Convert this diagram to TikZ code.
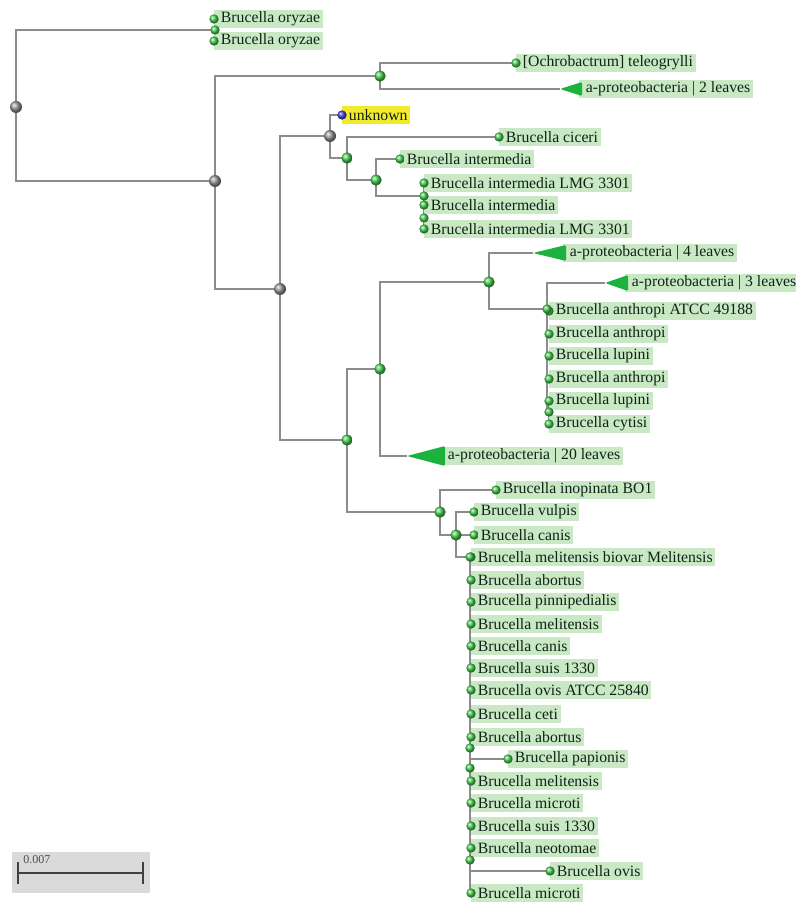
\documentclass[tikz,border=0pt]{standalone}
\usepackage{fontspec}
\setmainfont{Liberation Serif}
\usetikzlibrary{backgrounds}
\definecolor{branchgray}{RGB}{140,140,140}
\definecolor{leafgreen}{RGB}{70,205,80}
\definecolor{labelgreen}{RGB}{200,233,196}
\definecolor{cladegreen}{RGB}{28,178,62}
\definecolor{unknownyellow}{RGB}{242,234,45}
\definecolor{unknownblue}{RGB}{70,60,225}
\definecolor{textdark}{RGB}{18,34,24}
\definecolor{scalegray}{RGB}{218,218,218}

\begin{document}
\begin{tikzpicture}[x=0.75pt, y=-0.75pt,
  branch/.style={draw=branchgray, line width=1.3pt},
  junction/.style={circle, inner sep=0pt, minimum size=8.5pt, ball color=leafgreen},
  grayjunction/.style={circle, inner sep=0pt, minimum size=9pt, ball color=gray!80},
  leafdot/.style={circle, inner sep=0pt, minimum size=7pt, ball color=leafgreen},
  taxon/.style={anchor=west, fill=labelgreen, text=textdark, inner xsep=2pt, inner ysep=0pt,
    minimum height=13pt, font=\fontsize{11.8}{13}\selectfont, execute at begin node=\hspace*{3pt}},
  clade/.style={fill=cladegreen, rounded corners=1pt}
]
\useasboundingbox (0,0) rectangle (795,905);

% Leaf labels
\node[taxon] (lab-oryA) at (214,19) {Brucella oryzae};
\node[taxon] (lab-oryB) at (214,41) {Brucella oryzae};
\node[taxon] (lab-ochro) at (516,63) {[Ochrobactrum] teleogrylli};
\node[taxon, fill=unknownyellow] (lab-unk) at (342,115) {unknown};
\node[taxon] (lab-cic) at (499,137) {Brucella ciceri};
\node[taxon] (lab-intA) at (400,159) {Brucella intermedia};
\node[taxon] (lab-lmgA) at (424,183) {Brucella intermedia LMG 3301};
\node[taxon] (lab-intB) at (424,205) {Brucella intermedia};
\node[taxon] (lab-lmgB) at (424,229) {Brucella intermedia LMG 3301};
\node[taxon] (lab-atcc) at (549,311) {Brucella anthropi ATCC 49188};
\node[taxon] (lab-antA) at (549,334) {Brucella anthropi};
\node[taxon] (lab-lupA) at (549,356) {Brucella lupini};
\node[taxon] (lab-antB) at (549,379) {Brucella anthropi};
\node[taxon] (lab-lupB) at (549,401) {Brucella lupini};
\node[taxon] (lab-cyt) at (549,424) {Brucella cytisi};
\node[taxon] (lab-inop) at (496,490) {Brucella inopinata BO1};
\node[taxon] (lab-vulp) at (474,512) {Brucella vulpis};
\node[taxon] (lab-canA) at (474,535) {Brucella canis};
\node[taxon] (lab-mbm) at (471,557) {Brucella melitensis biovar Melitensis};
\node[taxon] (lab-aboA) at (471,580) {Brucella abortus};
\node[taxon] (lab-pin) at (471,602) {Brucella pinnipedialis};
\node[taxon] (lab-melA) at (471,624) {Brucella melitensis};
\node[taxon] (lab-canB) at (471,646) {Brucella canis};
\node[taxon] (lab-suisA) at (471,668) {Brucella suis 1330};
\node[taxon] (lab-ovisA) at (471,690) {Brucella ovis ATCC 25840};
\node[taxon] (lab-ceti) at (471,714) {Brucella ceti};
\node[taxon] (lab-aboB) at (471,737) {Brucella abortus};
\node[taxon] (lab-pap) at (508,759) {Brucella papionis};
\node[taxon] (lab-melB) at (471,781) {Brucella melitensis};
\node[taxon] (lab-micA) at (471,803) {Brucella microti};
\node[taxon] (lab-suisB) at (471,826) {Brucella suis 1330};
\node[taxon] (lab-neo) at (471,848) {Brucella neotomae};
\node[taxon] (lab-ovisB) at (550,871) {Brucella ovis};
\node[taxon] (lab-micB) at (471,893) {Brucella microti};

% Collapsed clades
\node[taxon] (lab-t2) at (579,89) {a-proteobacteria | 2 leaves};
\node[taxon] (lab-t4) at (563,253) {a-proteobacteria | 4 leaves};
\node[taxon] (lab-t3) at (625,283) {a-proteobacteria | 3 leaves};
\node[taxon] (lab-t20) at (441,456) {a-proteobacteria | 20 leaves};
\coordinate (t2) at (560,89);
\coordinate (t4) at (533,253);
\coordinate (t3) at (605,283);
\coordinate (t20) at (407,456);
\fill[clade] (t2) -- ++(22,-7) -- ++(0,14) -- cycle;
\fill[clade] (t4) -- ++(33,-8) -- ++(0,16) -- cycle;
\fill[clade] (t3) -- ++(23,-8) -- ++(0,16) -- cycle;
\fill[clade] (t20) -- ++(38,-10) -- ++(0,20) -- cycle;

% Leaf dots
\foreach \n in {oryA,oryB,ochro,cic,intA,lmgA,intB,lmgB,atcc,antA,lupA,antB,lupB,cyt,
  inop,vulp,canA,mbm,aboA,pin,melA,canB,suisA,ovisA,ceti,aboB,pap,melB,micA,suisB,neo,ovisB,micB}
  \node[leafdot] (\n) at (lab-\n.west) {};
\node[leafdot, ball color=unknownblue] (unk) at (lab-unk.west) {};

% Internal nodes
\node[grayjunction] (root) at (16,107) {};
\node[junction, minimum size=7pt] (j1) at (215,30) {};
\node[grayjunction] (j2) at (215,181) {};
\node[junction] (j3) at (380,76) {};
\node[grayjunction] (j4) at (280,289) {};
\node[grayjunction] (j5) at (330,136) {};
\node[junction] (j6) at (347,158) {};
\node[junction] (j7) at (376,180) {};
\node[junction, minimum size=7pt] (j8) at (424,196) {};
\node[junction, minimum size=7pt] (j9) at (424,218) {};
\node[junction] (j10) at (347,440) {};
\node[junction] (j11) at (380,369) {};
\node[junction] (j12) at (489,282) {};
\node[junction, minimum size=7pt] (j13) at (547,309) {};
\node[junction, minimum size=7pt] (j14) at (549,412) {};
\node[junction] (j15) at (440,512) {};
\node[junction] (j16) at (456,535) {};
\node[junction, minimum size=7pt] (j17) at (470,557) {};
\node[junction, minimum size=7pt] (j18) at (470,748) {};
\node[junction, minimum size=7pt] (j19) at (470,768) {};
\node[junction, minimum size=7pt] (j20) at (470,860) {};

% Branches
\begin{pgfonlayer}{background}
\foreach \p/\c in {root/j1, root/j2, j1/oryA, j1/oryB, j2/j3, j2/j4, j3/ochro, j3/t2,
  j4/j5, j4/j10, j5/unk, j5/j6, j6/cic, j6/j7, j7/intA, j7/j8, j8/lmgA, j8/j9, j9/intB, j9/lmgB,
  j10/j11, j10/j15, j11/j12, j11/t20, j12/t4, j12/j13, j13/t3, j13/atcc, j13/antA, j13/lupA,
  j13/antB, j13/j14, j14/lupB, j14/cyt, j15/inop, j15/j16, j16/vulp, j16/canA, j16/j17,
  j17/mbm, j17/aboA, j17/pin, j17/melA, j17/canB, j17/suisA, j17/ovisA, j17/ceti, j17/aboB, j17/j18,
  j18/pap, j18/j19, j19/melB, j19/micA, j19/suisB, j19/neo, j19/j20, j20/ovisB, j20/micB}
  \draw[branch] (\p.center) |- (\c.center);
\end{pgfonlayer}

% Scale bar
\fill[scalegray] (12,852) rectangle (150,893);
\coordinate (sbL) at (18,873);
\coordinate (sbR) at (143,873);
\draw[line width=1.5pt, black!75] (sbL) -- (sbR);
\draw[line width=1.5pt, black!75] ([yshift=-8]sbL) -- ([yshift=8]sbL);
\draw[line width=1.5pt, black!75] ([yshift=-8]sbR) -- ([yshift=8]sbR);
\node[anchor=west, inner sep=0pt, text=black!70, font=\fontsize{9}{10}\selectfont] (sblabel) at (23,860) {0.007};
\end{tikzpicture}
\end{document}
